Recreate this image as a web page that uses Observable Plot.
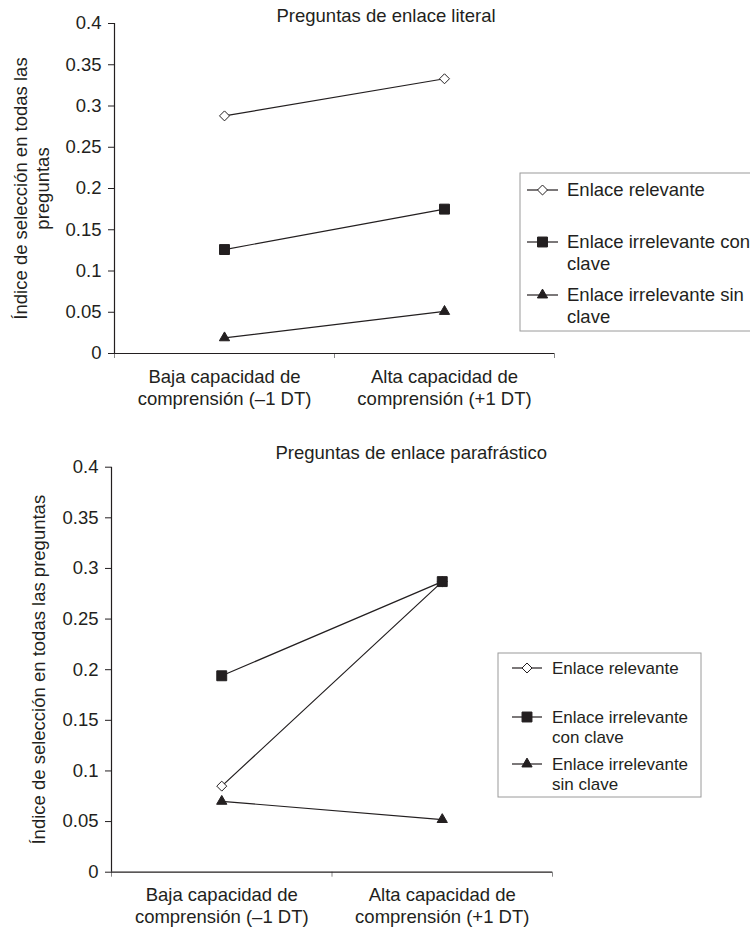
<!DOCTYPE html>
<html><head><meta charset="utf-8">
<script src="https://cdn.jsdelivr.net/npm/d3@7"></script>
<script src="https://cdn.jsdelivr.net/npm/@observablehq/plot@0.6"></script>
<style>
html,body{margin:0;padding:0;background:#fff;overflow:hidden}
#wrap{position:relative;width:750px;height:928px;overflow:hidden;background:#fff}
#wrap svg{position:absolute;left:0;overflow:visible}
</style></head><body><div id="wrap"></div>
<script>
// ---------- data ----------
const categories = ["Baja capacidad de\ncomprensión (–1 DT)", "Alta capacidad de\ncomprensión (+1 DT)"];
const seriesNames = ["Enlace relevante", "Enlace irrelevante con clave", "Enlace irrelevante sin clave"];
const yTicks = [0, 0.05, 0.1, 0.15, 0.2, 0.25, 0.3, 0.35, 0.4];

const literalTitle = "Preguntas de enlace literal";
const literalYLabel = "Índice de selección en todas las\npreguntas";
const literalRelevante = [0.288, 0.333];
const literalConClave = [0.126, 0.175];
const literalSinClave = [0.019, 0.051];
const literalLegend = ["Enlace relevante", "Enlace irrelevante con\nclave", "Enlace irrelevante sin\nclave"];

const parafTitle = "Preguntas de enlace parafrástico";
const parafYLabel = "Índice de selección en todas las preguntas";
const parafRelevante = [0.085, 0.287];
const parafConClave = [0.194, 0.287];
const parafSinClave = [0.070, 0.052];
const parafLegend = ["Enlace relevante", "Enlace irrelevante\ncon clave", "Enlace irrelevante\nsin clave"];

// ---------- styles ----------
const INK = "#231f20";
const FONT = "'Liberation Sans', Arial, Helvetica, sans-serif";
const FS = 18.5;
const seriesStyle = [
  {symbol: "diamond2", d3symbol: d3.symbolDiamond2, r: 4.5, fill: "white"},
  {symbol: "square", d3symbol: d3.symbolSquare, r: 5.6, fill: INK},
  {symbol: "triangle", d3symbol: d3.symbolTriangle, r: 3.8, fill: INK}
];

function makePanel(c) {
  const X = d => categories.indexOf(d.cat) + 0.5;
  const marks = [
    Plot.axisY({ticks: yTicks, tickSize: 6, tickPadding: 7, stroke: INK,
      tickFormat: d => String(+d.toFixed(2)), label: null}),
    Plot.axisX({ticks: [0, 1, 2], tickSize: 5, stroke: "#888", tickFormat: () => "", label: null}),
    Plot.ruleY([0], {stroke: INK, strokeWidth: 1.2}),
    Plot.ruleX([0], {stroke: INK, strokeWidth: 1.2}),
    Plot.text(categories, {x: (d, i) => i + 0.5, frameAnchor: "bottom", lineAnchor: "top",
      dy: c.catDy, lineHeight: 1.2, fill: INK}),
    Plot.text([c.yLabel], {frameAnchor: "left", rotate: -90, dx: c.labelDx,
      lineAnchor: "middle", textAnchor: "middle", lineHeight: 1.2, fill: INK}),
    Plot.text([c.title], {frameAnchor: "top-left", textAnchor: "start", lineAnchor: "middle",
      dx: c.titleDx, dy: c.titleDy, fill: INK})
  ];
  c.series.forEach(vals => {
    const data = vals.map((v, i) => ({cat: categories[i], v}));
    marks.push(Plot.line(data, {x: X, y: "v", stroke: INK, strokeWidth: 1.2}));
  });
  c.series.forEach((vals, s) => {
    const data = vals.map((v, i) => ({cat: categories[i], v}));
    const st = seriesStyle[s];
    marks.push(Plot.dot(data, {x: X, y: "v", symbol: st.symbol, r: st.r, fill: st.fill,
      stroke: INK, strokeWidth: 1}));
  });
  const svg = Plot.plot({
    width: 750, height: c.height,
    marginTop: c.marginTop, marginBottom: c.marginBottom,
    marginLeft: c.marginLeft, marginRight: c.marginRight,
    x: {type: "linear", domain: [0, 2], axis: null},
    y: {domain: [0, 0.4], axis: null},
    style: {fontFamily: FONT, fontSize: FS + "px", color: INK, background: "white", overflow: "visible"},
    marks
  });
  // legend
  const L = c.legend;
  const g = d3.select(svg).append("g")
    .attr("font-family", FONT).attr("font-size", L.fs).attr("fill", INK)
    .attr("text-anchor", "start");
  g.append("rect").attr("x", L.x).attr("y", L.y).attr("width", L.w).attr("height", L.h)
    .attr("fill", "white").attr("stroke", "#9a9a9a").attr("stroke-width", 1);
  c.legendLabels.forEach((lab, s) => {
    const cy = L.rows[s];
    const st = seriesStyle[s];
    g.append("line").attr("x1", L.lx1).attr("x2", L.lx2).attr("y1", cy).attr("y2", cy)
      .attr("stroke", INK).attr("stroke-width", 1.2);
    g.append("path").attr("d", d3.symbol(st.d3symbol, Math.PI * st.r * st.r)())
      .attr("transform", `translate(${(L.lx1 + L.lx2) / 2},${cy})`)
      .attr("fill", st.fill).attr("stroke", INK).attr("stroke-width", 1);
    const t = g.append("text").attr("x", L.tx).attr("y", cy).attr("text-anchor", "start");
    lab.split("\n").forEach((line, k) => {
      t.append("tspan").attr("x", L.tx).attr("dy", k === 0 ? "0.35em" : L.lh).text(line);
    });
  });
  svg.style.top = c.top + "px";
  return svg;
}

const wrap = document.getElementById("wrap");
wrap.appendChild(makePanel({
  top: 0, height: 430, marginTop: 23, marginBottom: 77, marginLeft: 114, marginRight: 196,
  series: [literalRelevante, literalConClave, literalSinClave],
  title: literalTitle, titleDx: 162, titleDy: -7,
  yLabel: literalYLabel, labelDx: -84,
  catDy: 14,
  legendLabels: literalLegend,
  legend: {x: 520, y: 173, w: 240, h: 158, lx1: 527, lx2: 558, tx: 567, rows: [190, 242, 295], lh: 22, fs: 18.5}
}));
wrap.appendChild(makePanel({
  top: 430, height: 498, marginTop: 36.7, marginBottom: 56.3, marginLeft: 111, marginRight: 198,
  series: [parafRelevante, parafConClave, parafSinClave],
  title: parafTitle, titleDx: 164, titleDy: -14,
  yLabel: parafYLabel, labelDx: -74,
  catDy: 13,
  legendLabels: parafLegend,
  legend: {x: 498, y: 223, w: 203, h: 144, lx1: 512, lx2: 542, tx: 552, rows: [238, 287, 334], lh: 20, fs: 17}
}));
</script>
</body></html>
